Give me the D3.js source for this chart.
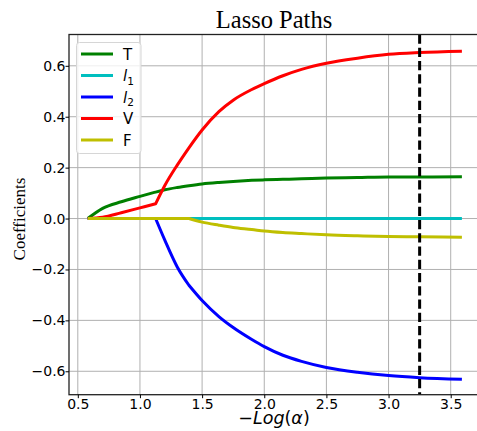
<!DOCTYPE html>
<html>
<head>
<meta charset="utf-8">
<script src="https://cdn.jsdelivr.net/npm/d3@7"></script>
<style>
  body { margin: 0; background: #fff; }
</style>
</head>
<body>
<div class="canvas"></div>
<script>
// -log(alpha) values along the path
const negLogAlpha = [0.58, 0.7, 0.85, 1.0, 1.126, 1.2, 1.3, 1.394, 1.5, 1.635, 1.75, 1.9, 2.0, 2.15, 2.3, 2.5, 2.75, 3.0, 3.25, 3.59];

// coefficient values per feature
const coefT = [0, 0.040, 0.066, 0.087, 0.104, 0.113, 0.122, 0.129, 0.136, 0.142, 0.146, 0.150, 0.152, 0.154, 0.156, 0.159, 0.161, 0.163, 0.163, 0.164];
const coefI1 = [0, 0, 0, 0, 0, 0, 0, 0, 0, 0, 0, 0, 0, 0, 0, 0, 0, 0, 0, 0];
const coefI2 = [0, 0, 0, 0, 0, -0.085, -0.19, -0.262, -0.322, -0.385, -0.428, -0.475, -0.503, -0.537, -0.561, -0.585, -0.604, -0.617, -0.625, -0.631];
const coefV = [0, 0.005, 0.023, 0.042, 0.058, 0.130, 0.210, 0.278, 0.348, 0.420, 0.465, 0.507, 0.530, 0.561, 0.586, 0.610, 0.630, 0.645, 0.652, 0.657];
const coefF = [0, 0, 0, 0, 0, 0, 0, 0, -0.014, -0.026, -0.035, -0.043, -0.049, -0.055, -0.059, -0.064, -0.068, -0.071, -0.072, -0.073];

const seriesNames = ['T', 'l1', 'l2', 'V', 'F'];
const seriesValues = [coefT, coefI1, coefI2, coefV, coefF];
const seriesColors = ['#008000', '#00bfbf', '#0000ff', '#ff0000', '#bfbf00'];

// indices where a feature enters the model (path has a kink)
const kinkIndex = [4, 7];

const xTicks = [0.5, 1.0, 1.5, 2.0, 2.5, 3.0, 3.5];
const yTicks = [-0.6, -0.4, -0.2, 0.0, 0.2, 0.4, 0.6];
const chosenAlpha = 3.25;

const width = 477;
const height = 431;
const plot = { left: 69, top: 34.5, right: 479, bottom: 394.7 };
const sans = "'DejaVu Sans', sans-serif";
const serif = "'Liberation Serif', 'Times New Roman', serif";

const svg = d3
  .select('.canvas')
  .append('svg')
  .attr('width', width)
  .attr('height', height)
  .style('font-family', sans);

// Scales
const x = d3.scaleLinear().domain([0.4292, 3.7276]).range([plot.left, plot.right]);
const y = d3.scaleLinear().domain([-0.692, 0.723]).range([plot.bottom, plot.top]);

// grid
const grid = svg.append('g');
grid.selectAll('.gx')
  .data(xTicks)
  .enter()
  .append('line')
  .attr('x1', d => x(d))
  .attr('x2', d => x(d))
  .attr('y1', plot.top)
  .attr('y2', plot.bottom)
  .attr('stroke', '#b0b0b0')
  .attr('stroke-width', 1);
grid.selectAll('.gy')
  .data(yTicks)
  .enter()
  .append('line')
  .attr('x1', plot.left)
  .attr('x2', plot.right)
  .attr('y1', d => y(d))
  .attr('y2', d => y(d))
  .attr('stroke', '#b0b0b0')
  .attr('stroke-width', 1);

// path lines: smooth pieces joined at the kinks
const line = d3
  .line()
  .x(d => x(d[0]))
  .y(d => y(d[1]))
  .curve(d3.curveMonotoneX);

const pathFor = values => {
  const pts = values.map((v, i) => [negLogAlpha[i], v]);
  const cuts = [0, ...kinkIndex, pts.length - 1];
  let d = '';
  for (let k = 0; k < cuts.length - 1; k++) {
    const seg = line(pts.slice(cuts[k], cuts[k + 1] + 1));
    d += k === 0 ? seg : seg.replace(/^M[^A-Za-z]*/, '');
  }
  return d;
};

svg.selectAll('.path')
  .data(seriesValues)
  .enter()
  .append('path')
  .attr('fill', 'none')
  .attr('stroke', (d, i) => seriesColors[i])
  .attr('stroke-width', 3)
  .attr('stroke-linejoin', 'round')
  .attr('d', pathFor);

// chosen alpha
svg.append('line')
  .attr('x1', x(chosenAlpha))
  .attr('x2', x(chosenAlpha))
  .attr('y1', plot.top)
  .attr('y2', plot.bottom)
  .attr('stroke', '#000')
  .attr('stroke-width', 3)
  .attr('stroke-dasharray', '9.25,4');

// spines
svg.append('rect')
  .attr('x', plot.left)
  .attr('y', plot.top)
  .attr('width', plot.right - plot.left)
  .attr('height', plot.bottom - plot.top)
  .attr('fill', 'none')
  .attr('stroke', '#222')
  .attr('stroke-width', 1.3);

// Axes
const xAxis = d3.axisBottom(x).tickValues(xTicks).tickFormat(d3.format('.1f')).tickSize(3.5).tickSizeOuter(0);
const yAxis = d3.axisLeft(y).tickValues(yTicks).tickFormat(d3.format('.1f')).tickSize(3.5).tickSizeOuter(0);

const xAxisGroup = svg.append('g').attr('transform', `translate(0, ${plot.bottom})`).call(xAxis);
const yAxisGroup = svg.append('g').attr('transform', `translate(${plot.left}, 0)`).call(yAxis);
[xAxisGroup, yAxisGroup].forEach(g => {
  g.attr('font-family', null).attr('font-size', null);
  g.select('.domain').remove();
  g.selectAll('line').attr('stroke', '#000');
  g.selectAll('text').attr('fill', '#000').style('font-size', '14px').style('font-family', sans);
});
xAxisGroup.selectAll('text').attr('dy', '0.71em').attr('y', 4);
yAxisGroup.selectAll('text').attr('x', -3.5);

// titles
svg.append('text')
  .attr('x', 274)
  .attr('y', 28)
  .attr('text-anchor', 'middle')
  .style('font-family', serif)
  .style('font-size', '24.5px')
  .text('Lasso Paths');

svg.append('text')
  .attr('transform', 'translate(25, 219) rotate(-90)')
  .attr('text-anchor', 'middle')
  .style('font-family', serif)
  .style('font-size', '17px')
  .text('Coefficients');

const xLabel = svg.append('text')
  .attr('x', 274)
  .attr('y', 424)
  .attr('text-anchor', 'middle')
  .style('font-size', '17.5px');
xLabel.append('tspan').text('\u2212');
xLabel.append('tspan').attr('font-style', 'italic').text('Log');
xLabel.append('tspan').text('(');
xLabel.append('tspan').attr('font-style', 'italic').text('\u03b1');
xLabel.append('tspan').text(')');

// legend
const legend = svg.append('g');
legend.append('rect')
  .attr('x', 76.5)
  .attr('y', 42.5)
  .attr('width', 64.5)
  .attr('height', 111)
  .attr('rx', 3)
  .attr('fill', 'rgba(255,255,255,0.8)')
  .attr('stroke', '#d6d6d6')
  .attr('stroke-width', 1);

const items = legend.selectAll('.item')
  .data(seriesNames)
  .enter()
  .append('g')
  .attr('transform', (d, i) => `translate(0, ${54 + i * 21.5})`);
items.append('line')
  .attr('x1', 81)
  .attr('x2', 113)
  .attr('stroke', (d, i) => seriesColors[i])
  .attr('stroke-width', 3);
items.each(function (d) {
  const t = d3.select(this)
    .append('text')
    .attr('x', 123)
    .attr('y', 5.5)
    .style('font-size', '15px');
  if (d[0] === 'l') {
    t.append('tspan').attr('font-style', 'italic').text('l');
    t.append('tspan').style('font-size', '10.5px').attr('dy', 3.5).text(d[1]);
  } else {
    t.text(d);
  }
});
</script>
</body>
</html>
